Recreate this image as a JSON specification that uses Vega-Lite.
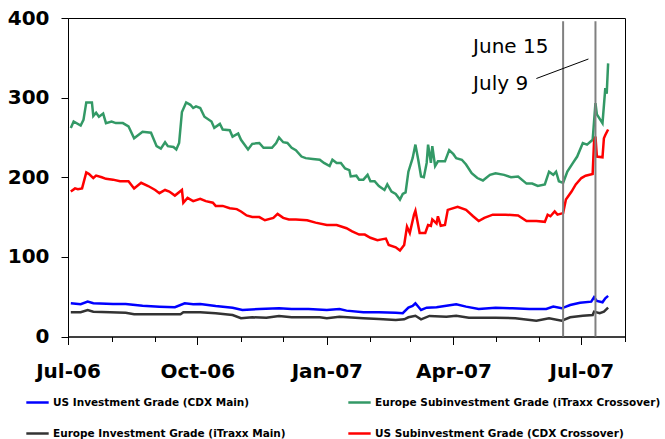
{
  "$schema": "https://vega.github.io/schema/vega-lite/v6.json",
  "width": 557,
  "height": 318.5,
  "autosize": {"type": "none"},
  "padding": {"left": 68, "top": 18, "right": 40, "bottom": 103},
  "background": "white",
  "config": {"view": {"stroke": "#000000", "strokeWidth": 1}, "font": "DejaVu Sans"},
  "datasets": {
    "series": [
      {"series": "Europe Subinvestment Grade (iTraxx Crossover)", "date": "2006-07-03", "value": 262},
      {"series": "Europe Subinvestment Grade (iTraxx Crossover)", "date": "2006-07-05", "value": 270},
      {"series": "Europe Subinvestment Grade (iTraxx Crossover)", "date": "2006-07-10", "value": 265},
      {"series": "Europe Subinvestment Grade (iTraxx Crossover)", "date": "2006-07-12", "value": 272},
      {"series": "Europe Subinvestment Grade (iTraxx Crossover)", "date": "2006-07-14", "value": 294},
      {"series": "Europe Subinvestment Grade (iTraxx Crossover)", "date": "2006-07-18", "value": 294},
      {"series": "Europe Subinvestment Grade (iTraxx Crossover)", "date": "2006-07-19", "value": 277},
      {"series": "Europe Subinvestment Grade (iTraxx Crossover)", "date": "2006-07-21", "value": 281},
      {"series": "Europe Subinvestment Grade (iTraxx Crossover)", "date": "2006-07-23", "value": 276},
      {"series": "Europe Subinvestment Grade (iTraxx Crossover)", "date": "2006-07-26", "value": 280},
      {"series": "Europe Subinvestment Grade (iTraxx Crossover)", "date": "2006-07-28", "value": 268},
      {"series": "Europe Subinvestment Grade (iTraxx Crossover)", "date": "2006-08-01", "value": 270},
      {"series": "Europe Subinvestment Grade (iTraxx Crossover)", "date": "2006-08-04", "value": 268},
      {"series": "Europe Subinvestment Grade (iTraxx Crossover)", "date": "2006-08-09", "value": 268},
      {"series": "Europe Subinvestment Grade (iTraxx Crossover)", "date": "2006-08-13", "value": 264},
      {"series": "Europe Subinvestment Grade (iTraxx Crossover)", "date": "2006-08-17", "value": 249},
      {"series": "Europe Subinvestment Grade (iTraxx Crossover)", "date": "2006-08-23", "value": 257},
      {"series": "Europe Subinvestment Grade (iTraxx Crossover)", "date": "2006-08-29", "value": 256},
      {"series": "Europe Subinvestment Grade (iTraxx Crossover)", "date": "2006-09-02", "value": 239},
      {"series": "Europe Subinvestment Grade (iTraxx Crossover)", "date": "2006-09-05", "value": 236},
      {"series": "Europe Subinvestment Grade (iTraxx Crossover)", "date": "2006-09-08", "value": 244},
      {"series": "Europe Subinvestment Grade (iTraxx Crossover)", "date": "2006-09-10", "value": 239},
      {"series": "Europe Subinvestment Grade (iTraxx Crossover)", "date": "2006-09-14", "value": 238},
      {"series": "Europe Subinvestment Grade (iTraxx Crossover)", "date": "2006-09-16", "value": 235},
      {"series": "Europe Subinvestment Grade (iTraxx Crossover)", "date": "2006-09-18", "value": 243},
      {"series": "Europe Subinvestment Grade (iTraxx Crossover)", "date": "2006-09-20", "value": 282},
      {"series": "Europe Subinvestment Grade (iTraxx Crossover)", "date": "2006-09-23", "value": 294},
      {"series": "Europe Subinvestment Grade (iTraxx Crossover)", "date": "2006-09-26", "value": 291},
      {"series": "Europe Subinvestment Grade (iTraxx Crossover)", "date": "2006-09-28", "value": 287},
      {"series": "Europe Subinvestment Grade (iTraxx Crossover)", "date": "2006-09-30", "value": 289},
      {"series": "Europe Subinvestment Grade (iTraxx Crossover)", "date": "2006-10-03", "value": 287},
      {"series": "Europe Subinvestment Grade (iTraxx Crossover)", "date": "2006-10-06", "value": 276},
      {"series": "Europe Subinvestment Grade (iTraxx Crossover)", "date": "2006-10-11", "value": 270},
      {"series": "Europe Subinvestment Grade (iTraxx Crossover)", "date": "2006-10-13", "value": 262},
      {"series": "Europe Subinvestment Grade (iTraxx Crossover)", "date": "2006-10-17", "value": 267},
      {"series": "Europe Subinvestment Grade (iTraxx Crossover)", "date": "2006-10-19", "value": 260},
      {"series": "Europe Subinvestment Grade (iTraxx Crossover)", "date": "2006-10-24", "value": 259},
      {"series": "Europe Subinvestment Grade (iTraxx Crossover)", "date": "2006-10-26", "value": 251},
      {"series": "Europe Subinvestment Grade (iTraxx Crossover)", "date": "2006-10-30", "value": 255},
      {"series": "Europe Subinvestment Grade (iTraxx Crossover)", "date": "2006-11-01", "value": 247},
      {"series": "Europe Subinvestment Grade (iTraxx Crossover)", "date": "2006-11-06", "value": 235},
      {"series": "Europe Subinvestment Grade (iTraxx Crossover)", "date": "2006-11-09", "value": 242},
      {"series": "Europe Subinvestment Grade (iTraxx Crossover)", "date": "2006-11-14", "value": 243},
      {"series": "Europe Subinvestment Grade (iTraxx Crossover)", "date": "2006-11-17", "value": 237},
      {"series": "Europe Subinvestment Grade (iTraxx Crossover)", "date": "2006-11-23", "value": 237},
      {"series": "Europe Subinvestment Grade (iTraxx Crossover)", "date": "2006-11-26", "value": 243},
      {"series": "Europe Subinvestment Grade (iTraxx Crossover)", "date": "2006-11-28", "value": 250},
      {"series": "Europe Subinvestment Grade (iTraxx Crossover)", "date": "2006-12-01", "value": 244},
      {"series": "Europe Subinvestment Grade (iTraxx Crossover)", "date": "2006-12-04", "value": 243},
      {"series": "Europe Subinvestment Grade (iTraxx Crossover)", "date": "2006-12-07", "value": 237},
      {"series": "Europe Subinvestment Grade (iTraxx Crossover)", "date": "2006-12-10", "value": 234},
      {"series": "Europe Subinvestment Grade (iTraxx Crossover)", "date": "2006-12-14", "value": 226},
      {"series": "Europe Subinvestment Grade (iTraxx Crossover)", "date": "2006-12-17", "value": 224},
      {"series": "Europe Subinvestment Grade (iTraxx Crossover)", "date": "2006-12-22", "value": 223},
      {"series": "Europe Subinvestment Grade (iTraxx Crossover)", "date": "2006-12-27", "value": 222},
      {"series": "Europe Subinvestment Grade (iTraxx Crossover)", "date": "2006-12-30", "value": 218},
      {"series": "Europe Subinvestment Grade (iTraxx Crossover)", "date": "2007-01-03", "value": 214},
      {"series": "Europe Subinvestment Grade (iTraxx Crossover)", "date": "2007-01-05", "value": 222},
      {"series": "Europe Subinvestment Grade (iTraxx Crossover)", "date": "2007-01-08", "value": 218},
      {"series": "Europe Subinvestment Grade (iTraxx Crossover)", "date": "2007-01-11", "value": 218},
      {"series": "Europe Subinvestment Grade (iTraxx Crossover)", "date": "2007-01-14", "value": 211},
      {"series": "Europe Subinvestment Grade (iTraxx Crossover)", "date": "2007-01-17", "value": 209},
      {"series": "Europe Subinvestment Grade (iTraxx Crossover)", "date": "2007-01-18", "value": 201},
      {"series": "Europe Subinvestment Grade (iTraxx Crossover)", "date": "2007-01-22", "value": 202},
      {"series": "Europe Subinvestment Grade (iTraxx Crossover)", "date": "2007-01-24", "value": 197},
      {"series": "Europe Subinvestment Grade (iTraxx Crossover)", "date": "2007-01-27", "value": 197},
      {"series": "Europe Subinvestment Grade (iTraxx Crossover)", "date": "2007-01-30", "value": 203},
      {"series": "Europe Subinvestment Grade (iTraxx Crossover)", "date": "2007-02-01", "value": 195},
      {"series": "Europe Subinvestment Grade (iTraxx Crossover)", "date": "2007-02-04", "value": 195},
      {"series": "Europe Subinvestment Grade (iTraxx Crossover)", "date": "2007-02-07", "value": 189},
      {"series": "Europe Subinvestment Grade (iTraxx Crossover)", "date": "2007-02-11", "value": 184},
      {"series": "Europe Subinvestment Grade (iTraxx Crossover)", "date": "2007-02-13", "value": 191},
      {"series": "Europe Subinvestment Grade (iTraxx Crossover)", "date": "2007-02-16", "value": 182},
      {"series": "Europe Subinvestment Grade (iTraxx Crossover)", "date": "2007-02-19", "value": 179},
      {"series": "Europe Subinvestment Grade (iTraxx Crossover)", "date": "2007-02-22", "value": 172},
      {"series": "Europe Subinvestment Grade (iTraxx Crossover)", "date": "2007-02-24", "value": 179},
      {"series": "Europe Subinvestment Grade (iTraxx Crossover)", "date": "2007-02-26", "value": 181},
      {"series": "Europe Subinvestment Grade (iTraxx Crossover)", "date": "2007-02-28", "value": 207},
      {"series": "Europe Subinvestment Grade (iTraxx Crossover)", "date": "2007-03-03", "value": 224},
      {"series": "Europe Subinvestment Grade (iTraxx Crossover)", "date": "2007-03-05", "value": 241},
      {"series": "Europe Subinvestment Grade (iTraxx Crossover)", "date": "2007-03-07", "value": 222},
      {"series": "Europe Subinvestment Grade (iTraxx Crossover)", "date": "2007-03-09", "value": 201},
      {"series": "Europe Subinvestment Grade (iTraxx Crossover)", "date": "2007-03-11", "value": 200},
      {"series": "Europe Subinvestment Grade (iTraxx Crossover)", "date": "2007-03-13", "value": 218},
      {"series": "Europe Subinvestment Grade (iTraxx Crossover)", "date": "2007-03-14", "value": 241},
      {"series": "Europe Subinvestment Grade (iTraxx Crossover)", "date": "2007-03-16", "value": 218},
      {"series": "Europe Subinvestment Grade (iTraxx Crossover)", "date": "2007-03-17", "value": 239},
      {"series": "Europe Subinvestment Grade (iTraxx Crossover)", "date": "2007-03-19", "value": 214},
      {"series": "Europe Subinvestment Grade (iTraxx Crossover)", "date": "2007-03-21", "value": 220},
      {"series": "Europe Subinvestment Grade (iTraxx Crossover)", "date": "2007-03-26", "value": 220},
      {"series": "Europe Subinvestment Grade (iTraxx Crossover)", "date": "2007-03-29", "value": 234},
      {"series": "Europe Subinvestment Grade (iTraxx Crossover)", "date": "2007-04-01", "value": 229},
      {"series": "Europe Subinvestment Grade (iTraxx Crossover)", "date": "2007-04-03", "value": 224},
      {"series": "Europe Subinvestment Grade (iTraxx Crossover)", "date": "2007-04-07", "value": 222},
      {"series": "Europe Subinvestment Grade (iTraxx Crossover)", "date": "2007-04-10", "value": 216},
      {"series": "Europe Subinvestment Grade (iTraxx Crossover)", "date": "2007-04-14", "value": 205},
      {"series": "Europe Subinvestment Grade (iTraxx Crossover)", "date": "2007-04-18", "value": 199},
      {"series": "Europe Subinvestment Grade (iTraxx Crossover)", "date": "2007-04-22", "value": 196},
      {"series": "Europe Subinvestment Grade (iTraxx Crossover)", "date": "2007-04-27", "value": 203},
      {"series": "Europe Subinvestment Grade (iTraxx Crossover)", "date": "2007-05-01", "value": 205},
      {"series": "Europe Subinvestment Grade (iTraxx Crossover)", "date": "2007-05-07", "value": 203},
      {"series": "Europe Subinvestment Grade (iTraxx Crossover)", "date": "2007-05-12", "value": 200},
      {"series": "Europe Subinvestment Grade (iTraxx Crossover)", "date": "2007-05-17", "value": 201},
      {"series": "Europe Subinvestment Grade (iTraxx Crossover)", "date": "2007-05-23", "value": 192},
      {"series": "Europe Subinvestment Grade (iTraxx Crossover)", "date": "2007-05-27", "value": 192},
      {"series": "Europe Subinvestment Grade (iTraxx Crossover)", "date": "2007-05-31", "value": 189},
      {"series": "Europe Subinvestment Grade (iTraxx Crossover)", "date": "2007-06-05", "value": 191},
      {"series": "Europe Subinvestment Grade (iTraxx Crossover)", "date": "2007-06-08", "value": 207},
      {"series": "Europe Subinvestment Grade (iTraxx Crossover)", "date": "2007-06-11", "value": 203},
      {"series": "Europe Subinvestment Grade (iTraxx Crossover)", "date": "2007-06-13", "value": 207},
      {"series": "Europe Subinvestment Grade (iTraxx Crossover)", "date": "2007-06-15", "value": 195},
      {"series": "Europe Subinvestment Grade (iTraxx Crossover)", "date": "2007-06-18", "value": 193},
      {"series": "Europe Subinvestment Grade (iTraxx Crossover)", "date": "2007-06-21", "value": 207},
      {"series": "Europe Subinvestment Grade (iTraxx Crossover)", "date": "2007-06-25", "value": 218},
      {"series": "Europe Subinvestment Grade (iTraxx Crossover)", "date": "2007-06-28", "value": 226},
      {"series": "Europe Subinvestment Grade (iTraxx Crossover)", "date": "2007-07-02", "value": 243},
      {"series": "Europe Subinvestment Grade (iTraxx Crossover)", "date": "2007-07-05", "value": 241},
      {"series": "Europe Subinvestment Grade (iTraxx Crossover)", "date": "2007-07-09", "value": 247},
      {"series": "Europe Subinvestment Grade (iTraxx Crossover)", "date": "2007-07-11", "value": 293},
      {"series": "Europe Subinvestment Grade (iTraxx Crossover)", "date": "2007-07-12", "value": 279},
      {"series": "Europe Subinvestment Grade (iTraxx Crossover)", "date": "2007-07-16", "value": 268},
      {"series": "Europe Subinvestment Grade (iTraxx Crossover)", "date": "2007-07-18", "value": 312},
      {"series": "Europe Subinvestment Grade (iTraxx Crossover)", "date": "2007-07-19", "value": 305},
      {"series": "Europe Subinvestment Grade (iTraxx Crossover)", "date": "2007-07-20", "value": 343},

      {"series": "US Subinvestment Grade (CDX Crossover)", "date": "2006-07-03", "value": 182},
      {"series": "US Subinvestment Grade (CDX Crossover)", "date": "2006-07-06", "value": 186},
      {"series": "US Subinvestment Grade (CDX Crossover)", "date": "2006-07-08", "value": 185},
      {"series": "US Subinvestment Grade (CDX Crossover)", "date": "2006-07-11", "value": 186},
      {"series": "US Subinvestment Grade (CDX Crossover)", "date": "2006-07-14", "value": 206},
      {"series": "US Subinvestment Grade (CDX Crossover)", "date": "2006-07-16", "value": 204},
      {"series": "US Subinvestment Grade (CDX Crossover)", "date": "2006-07-19", "value": 199},
      {"series": "US Subinvestment Grade (CDX Crossover)", "date": "2006-07-21", "value": 202},
      {"series": "US Subinvestment Grade (CDX Crossover)", "date": "2006-07-25", "value": 200},
      {"series": "US Subinvestment Grade (CDX Crossover)", "date": "2006-07-28", "value": 198},
      {"series": "US Subinvestment Grade (CDX Crossover)", "date": "2006-08-02", "value": 197},
      {"series": "US Subinvestment Grade (CDX Crossover)", "date": "2006-08-07", "value": 195},
      {"series": "US Subinvestment Grade (CDX Crossover)", "date": "2006-08-13", "value": 195},
      {"series": "US Subinvestment Grade (CDX Crossover)", "date": "2006-08-17", "value": 186},
      {"series": "US Subinvestment Grade (CDX Crossover)", "date": "2006-08-22", "value": 193},
      {"series": "US Subinvestment Grade (CDX Crossover)", "date": "2006-08-27", "value": 189},
      {"series": "US Subinvestment Grade (CDX Crossover)", "date": "2006-09-01", "value": 184},
      {"series": "US Subinvestment Grade (CDX Crossover)", "date": "2006-09-04", "value": 180},
      {"series": "US Subinvestment Grade (CDX Crossover)", "date": "2006-09-08", "value": 184},
      {"series": "US Subinvestment Grade (CDX Crossover)", "date": "2006-09-11", "value": 182},
      {"series": "US Subinvestment Grade (CDX Crossover)", "date": "2006-09-15", "value": 177},
      {"series": "US Subinvestment Grade (CDX Crossover)", "date": "2006-09-20", "value": 184},
      {"series": "US Subinvestment Grade (CDX Crossover)", "date": "2006-09-21", "value": 168},
      {"series": "US Subinvestment Grade (CDX Crossover)", "date": "2006-09-24", "value": 174},
      {"series": "US Subinvestment Grade (CDX Crossover)", "date": "2006-09-28", "value": 170},
      {"series": "US Subinvestment Grade (CDX Crossover)", "date": "2006-10-03", "value": 173},
      {"series": "US Subinvestment Grade (CDX Crossover)", "date": "2006-10-07", "value": 170},
      {"series": "US Subinvestment Grade (CDX Crossover)", "date": "2006-10-12", "value": 168},
      {"series": "US Subinvestment Grade (CDX Crossover)", "date": "2006-10-14", "value": 164},
      {"series": "US Subinvestment Grade (CDX Crossover)", "date": "2006-10-19", "value": 164},
      {"series": "US Subinvestment Grade (CDX Crossover)", "date": "2006-10-24", "value": 161},
      {"series": "US Subinvestment Grade (CDX Crossover)", "date": "2006-10-29", "value": 160},
      {"series": "US Subinvestment Grade (CDX Crossover)", "date": "2006-11-01", "value": 157},
      {"series": "US Subinvestment Grade (CDX Crossover)", "date": "2006-11-05", "value": 152},
      {"series": "US Subinvestment Grade (CDX Crossover)", "date": "2006-11-09", "value": 150},
      {"series": "US Subinvestment Grade (CDX Crossover)", "date": "2006-11-14", "value": 150},
      {"series": "US Subinvestment Grade (CDX Crossover)", "date": "2006-11-18", "value": 146},
      {"series": "US Subinvestment Grade (CDX Crossover)", "date": "2006-11-24", "value": 149},
      {"series": "US Subinvestment Grade (CDX Crossover)", "date": "2006-11-27", "value": 154},
      {"series": "US Subinvestment Grade (CDX Crossover)", "date": "2006-12-01", "value": 149},
      {"series": "US Subinvestment Grade (CDX Crossover)", "date": "2006-12-05", "value": 147},
      {"series": "US Subinvestment Grade (CDX Crossover)", "date": "2006-12-10", "value": 147},
      {"series": "US Subinvestment Grade (CDX Crossover)", "date": "2006-12-18", "value": 146},
      {"series": "US Subinvestment Grade (CDX Crossover)", "date": "2006-12-24", "value": 143},
      {"series": "US Subinvestment Grade (CDX Crossover)", "date": "2007-01-01", "value": 140},
      {"series": "US Subinvestment Grade (CDX Crossover)", "date": "2007-01-08", "value": 140},
      {"series": "US Subinvestment Grade (CDX Crossover)", "date": "2007-01-15", "value": 136},
      {"series": "US Subinvestment Grade (CDX Crossover)", "date": "2007-01-19", "value": 132},
      {"series": "US Subinvestment Grade (CDX Crossover)", "date": "2007-01-24", "value": 128},
      {"series": "US Subinvestment Grade (CDX Crossover)", "date": "2007-01-28", "value": 128},
      {"series": "US Subinvestment Grade (CDX Crossover)", "date": "2007-02-01", "value": 124},
      {"series": "US Subinvestment Grade (CDX Crossover)", "date": "2007-02-06", "value": 121},
      {"series": "US Subinvestment Grade (CDX Crossover)", "date": "2007-02-09", "value": 122},
      {"series": "US Subinvestment Grade (CDX Crossover)", "date": "2007-02-12", "value": 123},
      {"series": "US Subinvestment Grade (CDX Crossover)", "date": "2007-02-14", "value": 115},
      {"series": "US Subinvestment Grade (CDX Crossover)", "date": "2007-02-19", "value": 112},
      {"series": "US Subinvestment Grade (CDX Crossover)", "date": "2007-02-22", "value": 108},
      {"series": "US Subinvestment Grade (CDX Crossover)", "date": "2007-02-25", "value": 115},
      {"series": "US Subinvestment Grade (CDX Crossover)", "date": "2007-02-27", "value": 138},
      {"series": "US Subinvestment Grade (CDX Crossover)", "date": "2007-03-01", "value": 130},
      {"series": "US Subinvestment Grade (CDX Crossover)", "date": "2007-03-04", "value": 153},
      {"series": "US Subinvestment Grade (CDX Crossover)", "date": "2007-03-05", "value": 158},
      {"series": "US Subinvestment Grade (CDX Crossover)", "date": "2007-03-08", "value": 130},
      {"series": "US Subinvestment Grade (CDX Crossover)", "date": "2007-03-12", "value": 130},
      {"series": "US Subinvestment Grade (CDX Crossover)", "date": "2007-03-14", "value": 140},
      {"series": "US Subinvestment Grade (CDX Crossover)", "date": "2007-03-16", "value": 139},
      {"series": "US Subinvestment Grade (CDX Crossover)", "date": "2007-03-17", "value": 147},
      {"series": "US Subinvestment Grade (CDX Crossover)", "date": "2007-03-20", "value": 142},
      {"series": "US Subinvestment Grade (CDX Crossover)", "date": "2007-03-21", "value": 151},
      {"series": "US Subinvestment Grade (CDX Crossover)", "date": "2007-03-23", "value": 139},
      {"series": "US Subinvestment Grade (CDX Crossover)", "date": "2007-03-26", "value": 140},
      {"series": "US Subinvestment Grade (CDX Crossover)", "date": "2007-03-28", "value": 159},
      {"series": "US Subinvestment Grade (CDX Crossover)", "date": "2007-04-04", "value": 163},
      {"series": "US Subinvestment Grade (CDX Crossover)", "date": "2007-04-10", "value": 159},
      {"series": "US Subinvestment Grade (CDX Crossover)", "date": "2007-04-15", "value": 151},
      {"series": "US Subinvestment Grade (CDX Crossover)", "date": "2007-04-19", "value": 145},
      {"series": "US Subinvestment Grade (CDX Crossover)", "date": "2007-04-23", "value": 149},
      {"series": "US Subinvestment Grade (CDX Crossover)", "date": "2007-04-29", "value": 153},
      {"series": "US Subinvestment Grade (CDX Crossover)", "date": "2007-05-08", "value": 153},
      {"series": "US Subinvestment Grade (CDX Crossover)", "date": "2007-05-17", "value": 152},
      {"series": "US Subinvestment Grade (CDX Crossover)", "date": "2007-05-23", "value": 145},
      {"series": "US Subinvestment Grade (CDX Crossover)", "date": "2007-05-30", "value": 145},
      {"series": "US Subinvestment Grade (CDX Crossover)", "date": "2007-06-05", "value": 144},
      {"series": "US Subinvestment Grade (CDX Crossover)", "date": "2007-06-07", "value": 153},
      {"series": "US Subinvestment Grade (CDX Crossover)", "date": "2007-06-09", "value": 151},
      {"series": "US Subinvestment Grade (CDX Crossover)", "date": "2007-06-12", "value": 157},
      {"series": "US Subinvestment Grade (CDX Crossover)", "date": "2007-06-14", "value": 153},
      {"series": "US Subinvestment Grade (CDX Crossover)", "date": "2007-06-18", "value": 155},
      {"series": "US Subinvestment Grade (CDX Crossover)", "date": "2007-06-20", "value": 172},
      {"series": "US Subinvestment Grade (CDX Crossover)", "date": "2007-06-24", "value": 182},
      {"series": "US Subinvestment Grade (CDX Crossover)", "date": "2007-06-27", "value": 191},
      {"series": "US Subinvestment Grade (CDX Crossover)", "date": "2007-07-01", "value": 199},
      {"series": "US Subinvestment Grade (CDX Crossover)", "date": "2007-07-04", "value": 202},
      {"series": "US Subinvestment Grade (CDX Crossover)", "date": "2007-07-09", "value": 204},
      {"series": "US Subinvestment Grade (CDX Crossover)", "date": "2007-07-10", "value": 245},
      {"series": "US Subinvestment Grade (CDX Crossover)", "date": "2007-07-11", "value": 251},
      {"series": "US Subinvestment Grade (CDX Crossover)", "date": "2007-07-12", "value": 226},
      {"series": "US Subinvestment Grade (CDX Crossover)", "date": "2007-07-16", "value": 225},
      {"series": "US Subinvestment Grade (CDX Crossover)", "date": "2007-07-17", "value": 249},
      {"series": "US Subinvestment Grade (CDX Crossover)", "date": "2007-07-18", "value": 253},
      {"series": "US Subinvestment Grade (CDX Crossover)", "date": "2007-07-20", "value": 260},

      {"series": "US Investment Grade (CDX Main)", "date": "2006-07-03", "value": 41.7},
      {"series": "US Investment Grade (CDX Main)", "date": "2006-07-10", "value": 40.5},
      {"series": "US Investment Grade (CDX Main)", "date": "2006-07-15", "value": 43.8},
      {"series": "US Investment Grade (CDX Main)", "date": "2006-07-19", "value": 41.7},
      {"series": "US Investment Grade (CDX Main)", "date": "2006-08-02", "value": 40.9},
      {"series": "US Investment Grade (CDX Main)", "date": "2006-08-11", "value": 40.9},
      {"series": "US Investment Grade (CDX Main)", "date": "2006-08-23", "value": 38.7},
      {"series": "US Investment Grade (CDX Main)", "date": "2006-09-04", "value": 37.5},
      {"series": "US Investment Grade (CDX Main)", "date": "2006-09-15", "value": 36.7},
      {"series": "US Investment Grade (CDX Main)", "date": "2006-09-22", "value": 41.7},
      {"series": "US Investment Grade (CDX Main)", "date": "2006-09-28", "value": 40.5},
      {"series": "US Investment Grade (CDX Main)", "date": "2006-10-03", "value": 40.9},
      {"series": "US Investment Grade (CDX Main)", "date": "2006-10-14", "value": 38.3},
      {"series": "US Investment Grade (CDX Main)", "date": "2006-10-26", "value": 36.2},
      {"series": "US Investment Grade (CDX Main)", "date": "2006-11-02", "value": 33.3},
      {"series": "US Investment Grade (CDX Main)", "date": "2006-11-14", "value": 34.6},
      {"series": "US Investment Grade (CDX Main)", "date": "2006-11-28", "value": 35.4},
      {"series": "US Investment Grade (CDX Main)", "date": "2006-12-07", "value": 34.6},
      {"series": "US Investment Grade (CDX Main)", "date": "2006-12-19", "value": 34.6},
      {"series": "US Investment Grade (CDX Main)", "date": "2007-01-01", "value": 33.3},
      {"series": "US Investment Grade (CDX Main)", "date": "2007-01-10", "value": 34.6},
      {"series": "US Investment Grade (CDX Main)", "date": "2007-01-15", "value": 32.5},
      {"series": "US Investment Grade (CDX Main)", "date": "2007-01-27", "value": 30.4},
      {"series": "US Investment Grade (CDX Main)", "date": "2007-02-07", "value": 30.4},
      {"series": "US Investment Grade (CDX Main)", "date": "2007-02-19", "value": 29.9},
      {"series": "US Investment Grade (CDX Main)", "date": "2007-02-24", "value": 29.2},
      {"series": "US Investment Grade (CDX Main)", "date": "2007-02-28", "value": 36.2},
      {"series": "US Investment Grade (CDX Main)", "date": "2007-03-03", "value": 38.3},
      {"series": "US Investment Grade (CDX Main)", "date": "2007-03-05", "value": 41.7},
      {"series": "US Investment Grade (CDX Main)", "date": "2007-03-09", "value": 33.3},
      {"series": "US Investment Grade (CDX Main)", "date": "2007-03-13", "value": 36.2},
      {"series": "US Investment Grade (CDX Main)", "date": "2007-03-20", "value": 36.7},
      {"series": "US Investment Grade (CDX Main)", "date": "2007-03-27", "value": 38.7},
      {"series": "US Investment Grade (CDX Main)", "date": "2007-04-03", "value": 40.5},
      {"series": "US Investment Grade (CDX Main)", "date": "2007-04-10", "value": 37.5},
      {"series": "US Investment Grade (CDX Main)", "date": "2007-04-19", "value": 34.6},
      {"series": "US Investment Grade (CDX Main)", "date": "2007-05-01", "value": 36.2},
      {"series": "US Investment Grade (CDX Main)", "date": "2007-05-13", "value": 35.4},
      {"series": "US Investment Grade (CDX Main)", "date": "2007-05-25", "value": 34.6},
      {"series": "US Investment Grade (CDX Main)", "date": "2007-06-06", "value": 34.6},
      {"series": "US Investment Grade (CDX Main)", "date": "2007-06-11", "value": 37.5},
      {"series": "US Investment Grade (CDX Main)", "date": "2007-06-17", "value": 35.4},
      {"series": "US Investment Grade (CDX Main)", "date": "2007-06-23", "value": 39.6},
      {"series": "US Investment Grade (CDX Main)", "date": "2007-06-30", "value": 42.5},
      {"series": "US Investment Grade (CDX Main)", "date": "2007-07-08", "value": 43.8},
      {"series": "US Investment Grade (CDX Main)", "date": "2007-07-10", "value": 49.3},
      {"series": "US Investment Grade (CDX Main)", "date": "2007-07-12", "value": 44.6},
      {"series": "US Investment Grade (CDX Main)", "date": "2007-07-16", "value": 43},
      {"series": "US Investment Grade (CDX Main)", "date": "2007-07-18", "value": 48},
      {"series": "US Investment Grade (CDX Main)", "date": "2007-07-20", "value": 51},

      {"series": "Europe Investment Grade (iTraxx Main)", "date": "2006-07-03", "value": 30.4},
      {"series": "Europe Investment Grade (iTraxx Main)", "date": "2006-07-10", "value": 30.4},
      {"series": "Europe Investment Grade (iTraxx Main)", "date": "2006-07-15", "value": 33.3},
      {"series": "Europe Investment Grade (iTraxx Main)", "date": "2006-07-19", "value": 31.2},
      {"series": "Europe Investment Grade (iTraxx Main)", "date": "2006-07-31", "value": 30.4},
      {"series": "Europe Investment Grade (iTraxx Main)", "date": "2006-08-11", "value": 29.9},
      {"series": "Europe Investment Grade (iTraxx Main)", "date": "2006-08-17", "value": 27.9},
      {"series": "Europe Investment Grade (iTraxx Main)", "date": "2006-09-04", "value": 27.9},
      {"series": "Europe Investment Grade (iTraxx Main)", "date": "2006-09-19", "value": 27.9},
      {"series": "Europe Investment Grade (iTraxx Main)", "date": "2006-09-21", "value": 30.4},
      {"series": "Europe Investment Grade (iTraxx Main)", "date": "2006-10-03", "value": 30.4},
      {"series": "Europe Investment Grade (iTraxx Main)", "date": "2006-10-14", "value": 29.2},
      {"series": "Europe Investment Grade (iTraxx Main)", "date": "2006-10-26", "value": 27.0},
      {"series": "Europe Investment Grade (iTraxx Main)", "date": "2006-11-01", "value": 22.9},
      {"series": "Europe Investment Grade (iTraxx Main)", "date": "2006-11-09", "value": 24.1},
      {"series": "Europe Investment Grade (iTraxx Main)", "date": "2006-11-19", "value": 23.6},
      {"series": "Europe Investment Grade (iTraxx Main)", "date": "2006-11-28", "value": 25.8},
      {"series": "Europe Investment Grade (iTraxx Main)", "date": "2006-12-07", "value": 24.1},
      {"series": "Europe Investment Grade (iTraxx Main)", "date": "2006-12-27", "value": 24.1},
      {"series": "Europe Investment Grade (iTraxx Main)", "date": "2007-01-01", "value": 22.9},
      {"series": "Europe Investment Grade (iTraxx Main)", "date": "2007-01-10", "value": 24.9},
      {"series": "Europe Investment Grade (iTraxx Main)", "date": "2007-01-27", "value": 22.9},
      {"series": "Europe Investment Grade (iTraxx Main)", "date": "2007-02-07", "value": 22.0},
      {"series": "Europe Investment Grade (iTraxx Main)", "date": "2007-02-19", "value": 20.7},
      {"series": "Europe Investment Grade (iTraxx Main)", "date": "2007-02-25", "value": 21.6},
      {"series": "Europe Investment Grade (iTraxx Main)", "date": "2007-02-28", "value": 24.1},
      {"series": "Europe Investment Grade (iTraxx Main)", "date": "2007-03-05", "value": 26.1},
      {"series": "Europe Investment Grade (iTraxx Main)", "date": "2007-03-09", "value": 21.6},
      {"series": "Europe Investment Grade (iTraxx Main)", "date": "2007-03-15", "value": 25.8},
      {"series": "Europe Investment Grade (iTraxx Main)", "date": "2007-03-27", "value": 24.9},
      {"series": "Europe Investment Grade (iTraxx Main)", "date": "2007-04-03", "value": 26.1},
      {"series": "Europe Investment Grade (iTraxx Main)", "date": "2007-04-12", "value": 23.6},
      {"series": "Europe Investment Grade (iTraxx Main)", "date": "2007-05-01", "value": 23.6},
      {"series": "Europe Investment Grade (iTraxx Main)", "date": "2007-05-15", "value": 22.9},
      {"series": "Europe Investment Grade (iTraxx Main)", "date": "2007-05-30", "value": 19.9},
      {"series": "Europe Investment Grade (iTraxx Main)", "date": "2007-06-08", "value": 22.9},
      {"series": "Europe Investment Grade (iTraxx Main)", "date": "2007-06-17", "value": 19.9},
      {"series": "Europe Investment Grade (iTraxx Main)", "date": "2007-06-23", "value": 24.1},
      {"series": "Europe Investment Grade (iTraxx Main)", "date": "2007-07-02", "value": 26.1},
      {"series": "Europe Investment Grade (iTraxx Main)", "date": "2007-07-09", "value": 27.0},
      {"series": "Europe Investment Grade (iTraxx Main)", "date": "2007-07-10", "value": 31.2},
      {"series": "Europe Investment Grade (iTraxx Main)", "date": "2007-07-14", "value": 29.2},
      {"series": "Europe Investment Grade (iTraxx Main)", "date": "2007-07-17", "value": 31.2},
      {"series": "Europe Investment Grade (iTraxx Main)", "date": "2007-07-20", "value": 36.2}
    ],
    "events": [
      {"date": "2007-06-18"},
      {"date": "2007-07-11"}
    ],
    "connector": [
      {"date": "2007-05-30", "value": 324},
      {"date": "2007-07-06", "value": 348.5}
    ],
    "notes": [
      {"date": "2007-04-15", "value": 356, "label": "June 15"},
      {"date": "2007-04-15", "value": 309, "label": "July 9"}
    ]
  },
  "layer": [
    {
      "data": {"name": "series"},
      "mark": {"type": "line", "strokeWidth": 2.5, "interpolate": "linear"},
      "encoding": {
        "x": {
          "field": "date",
          "type": "temporal",
          "scale": {
            "type": "utc",
            "domain": [
              {"year": 2006, "month": 7, "date": 1, "utc": true},
              {"year": 2007, "month": 8, "date": 1, "utc": true}
            ]
          },
          "axis": {
            "title": null,
            "grid": false,
            "values": [
              {"year": 2006, "month": 7, "date": 1, "utc": true},
              {"year": 2006, "month": 8, "date": 1, "utc": true},
              {"year": 2006, "month": 9, "date": 1, "utc": true},
              {"year": 2006, "month": 10, "date": 1, "utc": true},
              {"year": 2006, "month": 11, "date": 1, "utc": true},
              {"year": 2006, "month": 12, "date": 1, "utc": true},
              {"year": 2007, "month": 1, "date": 1, "utc": true},
              {"year": 2007, "month": 2, "date": 1, "utc": true},
              {"year": 2007, "month": 3, "date": 1, "utc": true},
              {"year": 2007, "month": 4, "date": 1, "utc": true},
              {"year": 2007, "month": 5, "date": 1, "utc": true},
              {"year": 2007, "month": 6, "date": 1, "utc": true},
              {"year": 2007, "month": 7, "date": 1, "utc": true},
              {"year": 2007, "month": 8, "date": 1, "utc": true}
            ],
            "labelExpr": "utcmonth(datum.value) % 3 === 0 ? utcFormat(datum.value, '%b-%y') : ''",
            "tickSize": {"condition": {"test": "utcmonth(datum.value) % 3 === 0", "value": 8}, "value": 5},
            "tickColor": "#000000",
            "domainColor": "#000000",
            "labelFont": "DejaVu Sans",
            "labelFontWeight": "bold",
            "labelFontSize": 20,
            "labelColor": "#000000",
            "labelPadding": 17,
            "labelFlush": false,
            "labelOverlap": false
          }
        },
        "y": {
          "field": "value",
          "type": "quantitative",
          "scale": {"domain": [0, 400], "nice": false},
          "axis": {
            "title": null,
            "grid": false,
            "values": [0, 100, 200, 300, 400],
            "tickSize": 7,
            "tickColor": "#000000",
            "domainColor": "#000000",
            "labelFont": "DejaVu Sans",
            "labelFontWeight": "bold",
            "labelFontSize": 20,
            "labelColor": "#000000",
            "labelPadding": 12
          }
        },
        "color": {
          "field": "series",
          "type": "nominal",
          "scale": {
            "domain": ["US Investment Grade (CDX Main)", "Europe Investment Grade (iTraxx Main)", "Europe Subinvestment Grade (iTraxx Crossover)", "US Subinvestment Grade (CDX Crossover)"],
            "range": ["#0000FF", "#333333", "#339966", "#FF0000"]
          },
          "legend": {
            "orient": "none",
            "legendX": -43,
            "legendY": 372,
            "columns": 2,
            "columnPadding": 57,
            "rowPadding": 13,
            "title": null,
            "padding": 0,
            "labelFont": "DejaVu Sans",
            "labelFontWeight": "bold",
            "labelFontSize": 10.5,
            "labelColor": "#000000",
            "labelLimit": 400,
            "labelOffset": 3,
            "symbolType": "stroke",
            "symbolSize": 500,
            "symbolStrokeWidth": 2.5
          }
        }
      }
    },
    {
      "data": {"name": "events"},
      "mark": {"type": "rule", "color": "#808080", "strokeWidth": 2},
      "encoding": {
        "x": {"field": "date", "type": "temporal"},
        "y": {"datum": 396, "type": "quantitative"},
        "y2": {"datum": 0}
      }
    },
    {
      "data": {"name": "connector"},
      "mark": {"type": "line", "color": "#000000", "strokeWidth": 1},
      "encoding": {
        "x": {"field": "date", "type": "temporal"},
        "y": {"field": "value", "type": "quantitative"}
      }
    },
    {
      "data": {"name": "notes"},
      "mark": {"type": "text", "align": "left", "baseline": "alphabetic", "font": "DejaVu Sans", "fontSize": 20, "color": "#000000"},
      "encoding": {
        "x": {"field": "date", "type": "temporal"},
        "y": {"field": "value", "type": "quantitative"},
        "text": {"field": "label", "type": "nominal"}
      }
    }
  ]
}
